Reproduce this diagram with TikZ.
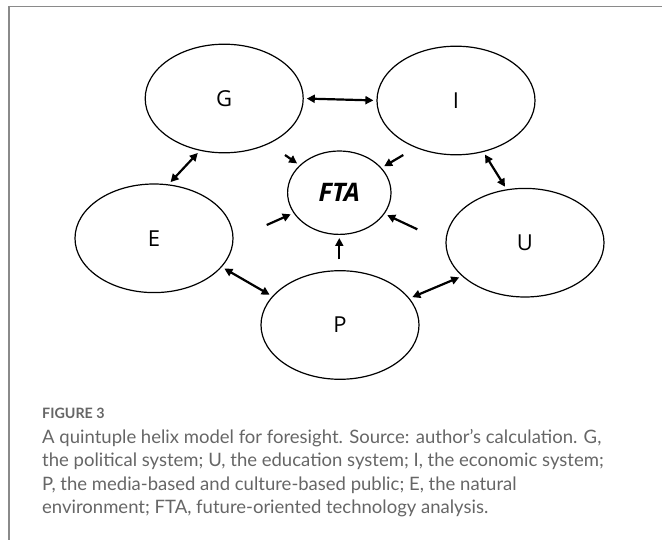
\documentclass[tikz,border=0pt]{standalone}
\usepackage{fontspec}
\setmainfont{Open Sans}
\newfontfamily\capfont{Lato}
\usetikzlibrary{positioning,shapes.geometric,arrows.meta}
\definecolor{capgray}{HTML}{666666}
\definecolor{rulegray}{HTML}{8A8A8A}

\begin{document}
\begin{tikzpicture}[x=1pt,y=-1pt,
 helix/.style={draw,ellipse,line width=1.2pt,minimum width=158pt,minimum height=108.6pt,inner sep=0pt,font=\fontsize{22}{26}\selectfont},
 both/.style={line width=2.2pt,{Triangle[length=8pt,width=8pt]}-{Triangle[length=8pt,width=8pt]},shorten <=3pt,shorten >=3pt},
 tofta/.style={line width=2.2pt,-{Triangle[length=8pt,width=8pt]},shorten >=3pt}]
 \useasboundingbox (0,0) rectangle (662,540);
 \draw[rulegray,line width=1.2pt](8,6.5)--(662,6.5);
 \draw[rulegray,line width=2pt](8.7,6)--(8.7,540);

 \node[helix] (G) at (224.2,98.5) {G};
 \node[helix] (I) at (456,100.5) {I};
 \node[helix] (E) at (154,238.3) {E};
 \node[helix] (U) at (525,242.7) {U};
 \node[helix] (P) at (340,325) {P};
 \node[draw,ellipse,line width=1.2pt,minimum width=103.4pt,minimum height=83.4pt,inner sep=0pt,font=\bfseries\itshape\fontsize{25.5}{28}\selectfont] (FTA) at (339.3,192.7) {FTA};

 \draw[both](G.0)--(I.180);
 \draw[both](G.245)--(E.75);
 \draw[both](I.298)--(U.109);
 \draw[both](E.337)--(P.157.5);
 \draw[both](P.21.5)--(U.208);

 \coordinate (fromG) at (285,155);
 \coordinate (fromI) at (403.3,155);
 \coordinate (fromE) at (266.7,225);
 \coordinate (fromU) at (417.3,229.3);
 \coordinate (fromP) at (339.3,259.3);
 \draw[tofta](fromG)--(FTA);
 \draw[tofta](fromI)--(FTA);
 \draw[tofta](fromE)--(FTA);
 \draw[tofta](fromU)--(FTA);
 \draw[tofta](fromP)--(FTA);

 \node[anchor=base west,inner sep=0pt,text=capgray,font=\capfont\bfseries\fontsize{14.3}{16}\selectfont] (figlabel) at (42,418.3) {FIGURE 3};
 \node[anchor=base west,align=left,inner sep=0pt,text=capgray,font=\capfont\fontsize{18.5}{23.3}\selectfont] (caption) at (42,513.3)
  {A quintuple helix model for foresight. Source: author’s calculation. G,\\
   the political system; U, the education system; I, the economic system;\\
   P, the media-based and culture-based public; E, the natural\\
   environment; FTA, future-oriented technology analysis.};
\end{tikzpicture}
\end{document}
